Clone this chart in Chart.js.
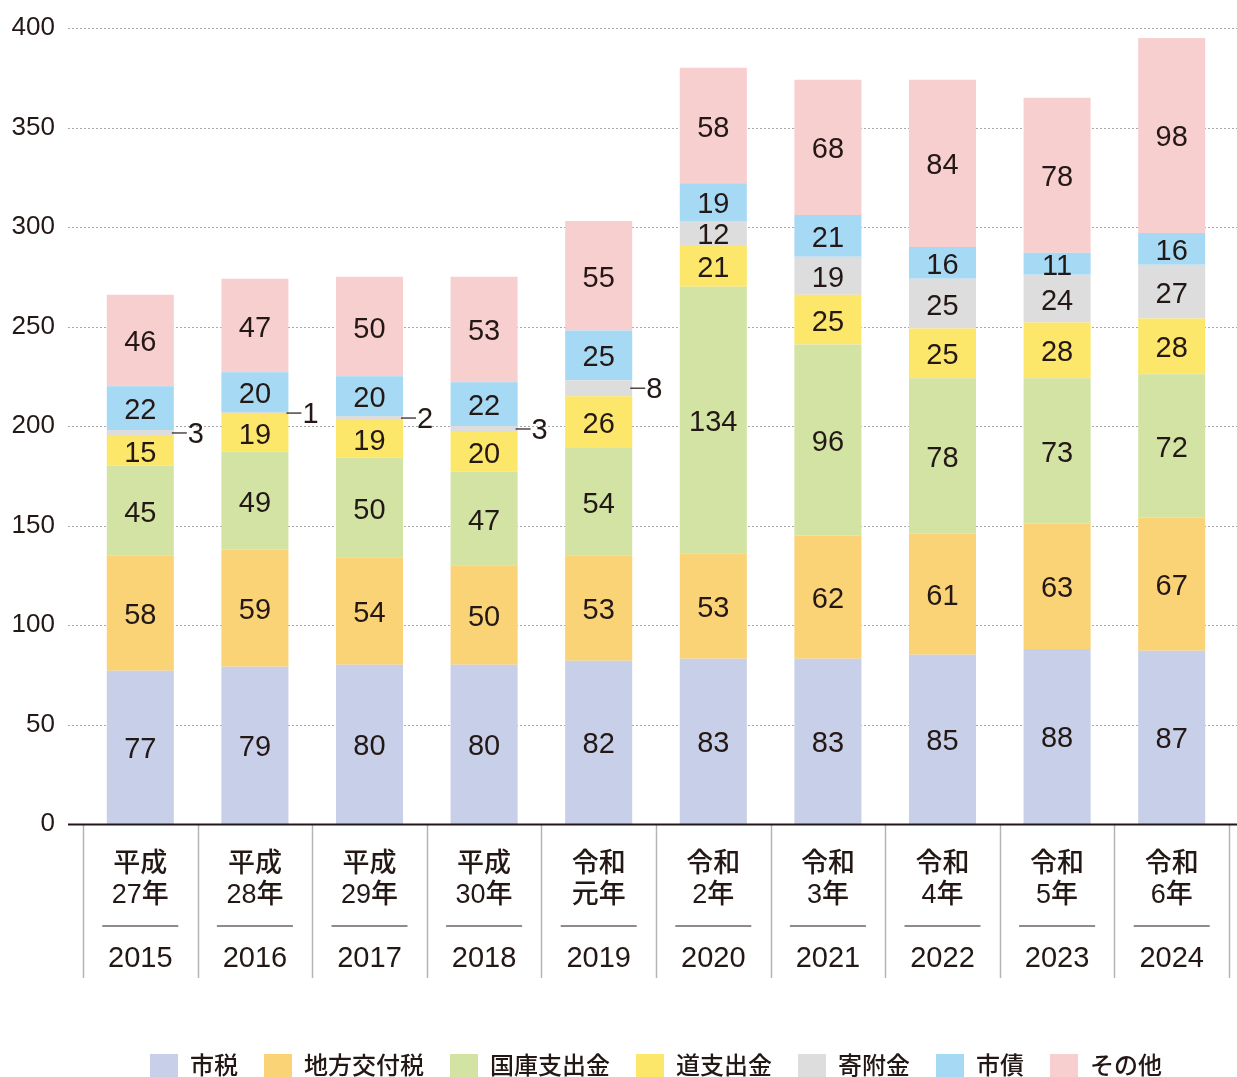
<!DOCTYPE html>
<html>
<head>
<meta charset="utf-8">
<script src="https://cdn.jsdelivr.net/npm/chart.js@4.4.0/dist/chart.umd.min.js"></script>
<style>
  html, body { margin: 0; padding: 0; background: #fff; }
  #wrap { width: 1237px; height: 1077px; }
</style>
</head>
<body>
<div id="wrap"><canvas id="revenueChart"></canvas></div>
<script>
// Categories (era label lines + western year)
const eraLabels = [
    ['平成', '27年'], ['平成', '28年'], ['平成', '29年'], ['平成', '30年'], ['令和', '元年'],
    ['令和', '2年'], ['令和', '3年'], ['令和', '4年'], ['令和', '5年'], ['令和', '6年']
];
const years = ['2015', '2016', '2017', '2018', '2019', '2020', '2021', '2022', '2023', '2024'];

// Series values (億円)
const shizei       = [77, 79, 80, 80, 82, 83, 83, 85, 88, 87];
const chihoKofu    = [58, 59, 54, 50, 53, 53, 62, 61, 63, 67];
const kokkoShishutsu = [45, 49, 50, 47, 54, 134, 96, 78, 73, 72];
const doShishutsu  = [15, 19, 19, 20, 26, 21, 25, 25, 28, 28];
const kifukin      = [3, 1, 2, 3, 8, 12, 19, 25, 24, 27];
const shisai       = [22, 20, 20, 22, 25, 19, 21, 16, 11, 16];
const sonota       = [46, 47, 50, 53, 55, 58, 68, 84, 78, 98];

// Y axis ticks
const yTicks = [0, 50, 100, 150, 200, 250, 300, 350, 400];

const FONT = '"Liberation Sans", "Noto Sans CJK JP", sans-serif';
const TEXT = '#231815';

// Draws dotted grid, axis line, category separators, x labels and value labels
const chartDecor = {
    id: 'chartDecor',
    beforeDatasetsDraw(chart) {
        const { ctx, chartArea, scales: { y } } = chart;
        ctx.save();
        ctx.strokeStyle = '#a8a8a8';
        ctx.lineWidth = 1;
        ctx.setLineDash([2, 2]);
        yTicks.forEach(v => {
            if (v === 0) return;
            const py = Math.round(y.getPixelForValue(v)) + 0.5;
            ctx.beginPath();
            ctx.moveTo(chartArea.left - 15, py);
            ctx.lineTo(chart.width, py);
            ctx.stroke();
        });
        ctx.restore();
    },
    afterDatasetsDraw(chart) {
        const { ctx, chartArea, scales: { x, y } } = chart;
        const base = y.getPixelForValue(0);
        const catW = chartArea.width / years.length;

        ctx.save();
        // category separators
        ctx.strokeStyle = '#b4b4b4';
        ctx.lineWidth = 1.5;
        for (let i = 0; i <= years.length; i++) {
            const px = Math.round(chartArea.left + i * catW) + 0.5;
            ctx.beginPath();
            ctx.moveTo(px, base);
            ctx.lineTo(px, base + 154);
            ctx.stroke();
        }
        // axis line
        ctx.strokeStyle = TEXT;
        ctx.lineWidth = 2;
        ctx.beginPath();
        ctx.moveTo(chartArea.left - 15, base + 0.5);
        ctx.lineTo(chart.width, base + 0.5);
        ctx.stroke();

        // x labels
        ctx.fillStyle = TEXT;
        ctx.textAlign = 'center';
        ctx.textBaseline = 'middle';
        years.forEach((yr, i) => {
            const cx = x.getPixelForValue(i);
            ctx.font = '500 27px ' + FONT;
            ctx.fillText(eraLabels[i][0], cx, base + 41);
            ctx.fillText(eraLabels[i][1], cx, base + 72);
            ctx.strokeStyle = TEXT;
            ctx.lineWidth = 1.2;
            ctx.beginPath();
            ctx.moveTo(cx - 38, base + 102);
            ctx.lineTo(cx + 38, base + 102);
            ctx.stroke();
            ctx.font = '29px ' + FONT;
            ctx.fillText(yr, cx, base + 135);
        });

        // value labels
        ctx.font = '29px ' + FONT;
        chart.data.datasets.forEach((ds, di) => {
            const meta = chart.getDatasetMeta(di);
            meta.data.forEach((bar, i) => {
                const v = ds.data[i];
                const cy = (bar.y + bar.base) / 2;
                if (v < 10) {
                    const right = bar.x + bar.width / 2;
                    ctx.strokeStyle = TEXT;
                    ctx.lineWidth = 1.2;
                    ctx.beginPath();
                    ctx.moveTo(right - 2, cy);
                    ctx.lineTo(right + 13, cy);
                    ctx.stroke();
                    ctx.textAlign = 'left';
                    ctx.fillText(String(v), right + 14, cy + 2);
                } else {
                    ctx.textAlign = 'center';
                    ctx.fillText(String(v), bar.x, cy + 3);
                }
            });
        });
        ctx.restore();
    }
};

const ctx = document.getElementById('revenueChart').getContext('2d');

new Chart(ctx, {
    type: 'bar',
    data: {
        labels: years,
        datasets: [
            { label: '市税', data: shizei, backgroundColor: '#c8cfe8' },
            { label: '地方交付税', data: chihoKofu, backgroundColor: '#fad377' },
            { label: '国庫支出金', data: kokkoShishutsu, backgroundColor: '#d2e3a4' },
            { label: '道支出金', data: doShishutsu, backgroundColor: '#fde76a' },
            { label: '寄附金', data: kifukin, backgroundColor: '#dddddd' },
            { label: '市債', data: shisai, backgroundColor: '#a5d9f4' },
            { label: 'その他', data: sonota, backgroundColor: '#f8cfcf' }
        ]
    },
    options: {
        responsive: true,
        maintainAspectRatio: false,
        animation: false,
        datasets: { bar: { categoryPercentage: 1, barPercentage: 0.585, borderWidth: 0 } },
        layout: { padding: { top: 28, right: 8, left: 0, bottom: -13 } },
        scales: {
            x: {
                stacked: true,
                grid: { display: false },
                border: { display: false },
                ticks: { display: false },
                afterFit: scale => { scale.height = 204; }
            },
            y: {
                stacked: true,
                min: 0,
                max: 400,
                ticks: {
                    stepSize: 50,
                    padding: 28,
                    color: TEXT,
                    font: { family: FONT, size: 26 }
                },
                grid: { display: false, drawTicks: false },
                border: { display: false },
                afterFit: scale => {
                    scale.width = 83;
                    scale.paddingTop = 0;
                    scale.paddingBottom = 0;
                }
            }
        },
        plugins: {
            legend: {
                position: 'bottom',
                fullSize: false,
                labels: {
                    boxWidth: 28,
                    boxHeight: 26,
                    padding: 26,
                    color: TEXT,
                    font: { family: FONT, size: 24, weight: '500' }
                }
            },
            tooltip: { enabled: false }
        }
    },
    plugins: [chartDecor]
});
</script>
</body>
</html>
